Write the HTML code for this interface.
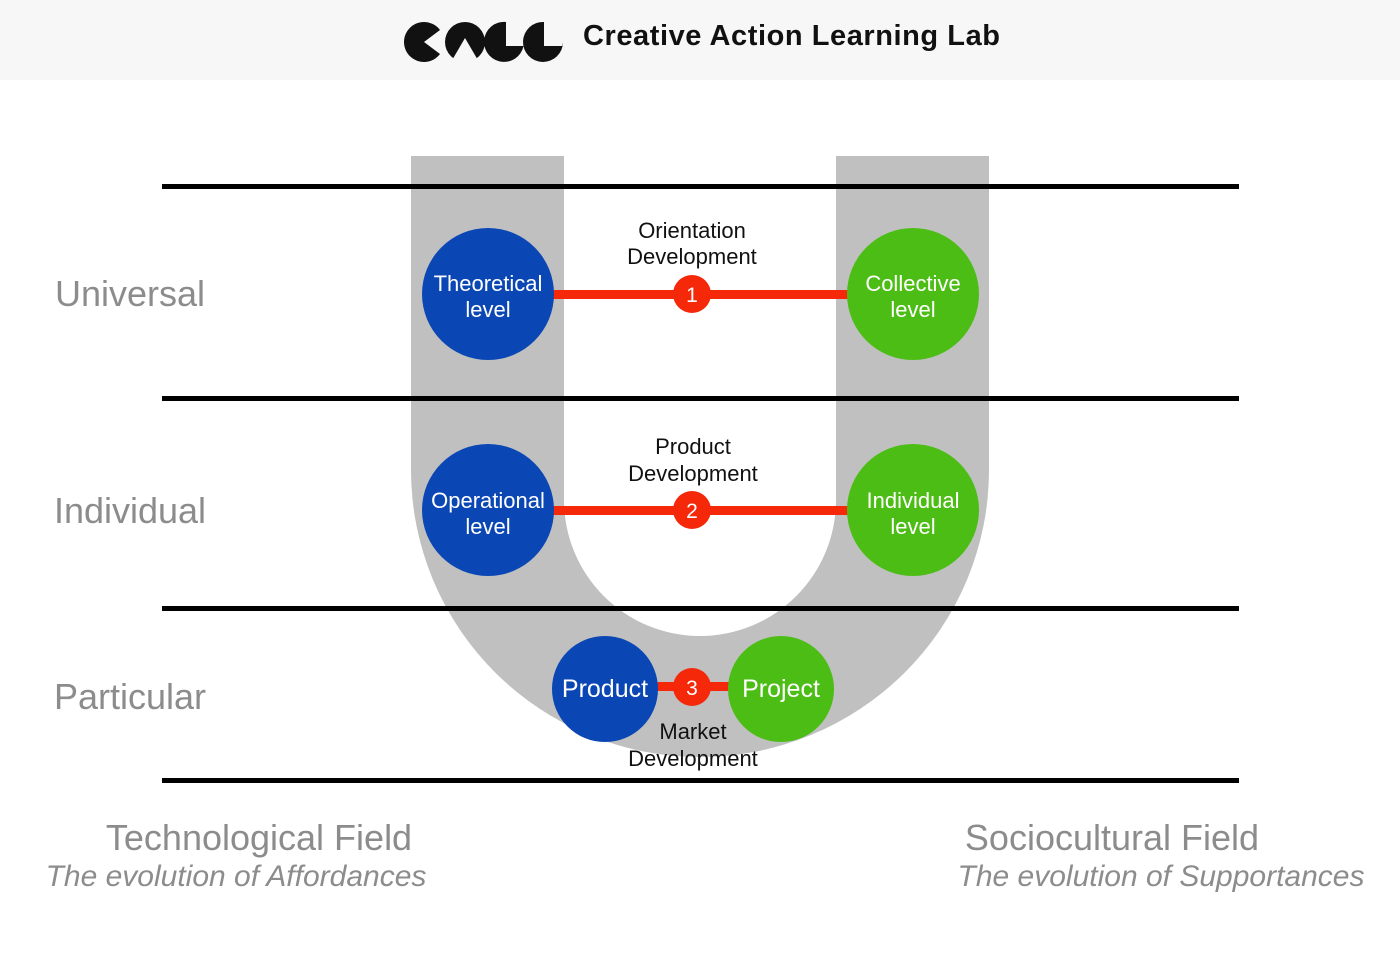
<!DOCTYPE html>
<html><head><meta charset="utf-8"><style>
body{margin:0;width:1400px;height:950px;background:#fff;overflow:hidden;font-family:"Liberation Sans",Arial,sans-serif}
</style></head><body>
<svg width="1400" height="950" xmlns="http://www.w3.org/2000/svg" font-family="Liberation Sans, Arial, sans-serif">
<rect x="0" y="0" width="1400" height="80" fill="#f7f7f7"/>
<g fill="#111">
<path d="M440,30 A20,20 0 1 0 440,54 L424,42 Z"/>
<path d="M445,42 A20,20 0 1 1 485,42 A20,20 0 1 1 445,42 Z"/>
<path d="M451,62 L465,38 L479,62 Z" fill="#f7f7f7"/>
<path d="M506,22 L506,46 L524,46 L524,42 A20,20 0 1 1 506,22 Z"/>
<path d="M544,22 L544,46 L563,46 L563,42 A20,20 0 1 1 544,22 Z"/>
</g>
<text x="583" y="45" font-size="29" font-weight="bold" fill="#111" textLength="417">Creative Action Learning Lab</text>
<path d="M411,156 H564 V500 A136,136 0 0 0 836,500 V156 H989 V470 A289,287 0 0 1 411,470 Z" fill="#c0c0c0"/>
<g fill="#000">
<rect x="162" y="184" width="1077" height="5"/>
<rect x="162" y="396" width="1077" height="5"/>
<rect x="162" y="606" width="1077" height="5"/>
<rect x="162" y="778" width="1077" height="5"/>
</g>
<g fill="#f5290a">
<rect x="550" y="290" width="300" height="9"/>
<rect x="550" y="506" width="300" height="9"/>
<rect x="650" y="682" width="90" height="9"/>
</g>
<circle cx="488" cy="294" r="66" fill="#0b47b4"/>
<circle cx="913" cy="294" r="66" fill="#4cbd15"/>
<circle cx="488" cy="510" r="66" fill="#0b47b4"/>
<circle cx="913" cy="510" r="66" fill="#4cbd15"/>
<circle cx="605" cy="689" r="53" fill="#0b47b4"/>
<circle cx="781" cy="689" r="53" fill="#4cbd15"/>
<g fill="#f5290a"><circle cx="692" cy="294" r="19"/><circle cx="692" cy="510" r="19"/><circle cx="692" cy="687" r="19"/></g>
<g fill="#fff" font-size="21" text-anchor="middle">
<text x="692" y="302">1</text><text x="692" y="518">2</text><text x="692" y="695">3</text>
<text x="488" y="291" font-size="22">Theoretical</text><text x="488" y="317" font-size="22">level</text>
<text x="913" y="291" font-size="22">Collective</text><text x="913" y="317" font-size="22">level</text>
<text x="488" y="508" font-size="22">Operational</text><text x="488" y="534" font-size="22">level</text>
<text x="913" y="508" font-size="22">Individual</text><text x="913" y="534" font-size="22">level</text>
<text x="605" y="697" font-size="25">Product</text>
<text x="781" y="697" font-size="25">Project</text>
</g>
<g fill="#111" font-size="22" text-anchor="middle">
<text x="692" y="238">Orientation</text><text x="692" y="264">Development</text>
<text x="693" y="454">Product</text><text x="693" y="481">Development</text>
<text x="693" y="739">Market</text><text x="693" y="766">Development</text>
</g>
<g fill="#8c8c8c" font-size="36" text-anchor="middle">
<text x="130" y="306">Universal</text>
<text x="130" y="523">Individual</text>
<text x="130" y="709">Particular</text>
<text x="259" y="850">Technological Field</text>
<text x="1112" y="850">Sociocultural Field</text>
</g>
<g fill="#8c8c8c" font-size="30" font-style="italic" text-anchor="middle">
<text x="236" y="886">The evolution of Affordances</text>
<text x="1161" y="886">The evolution of Supportances</text>
</g>
</svg>
</body></html>
